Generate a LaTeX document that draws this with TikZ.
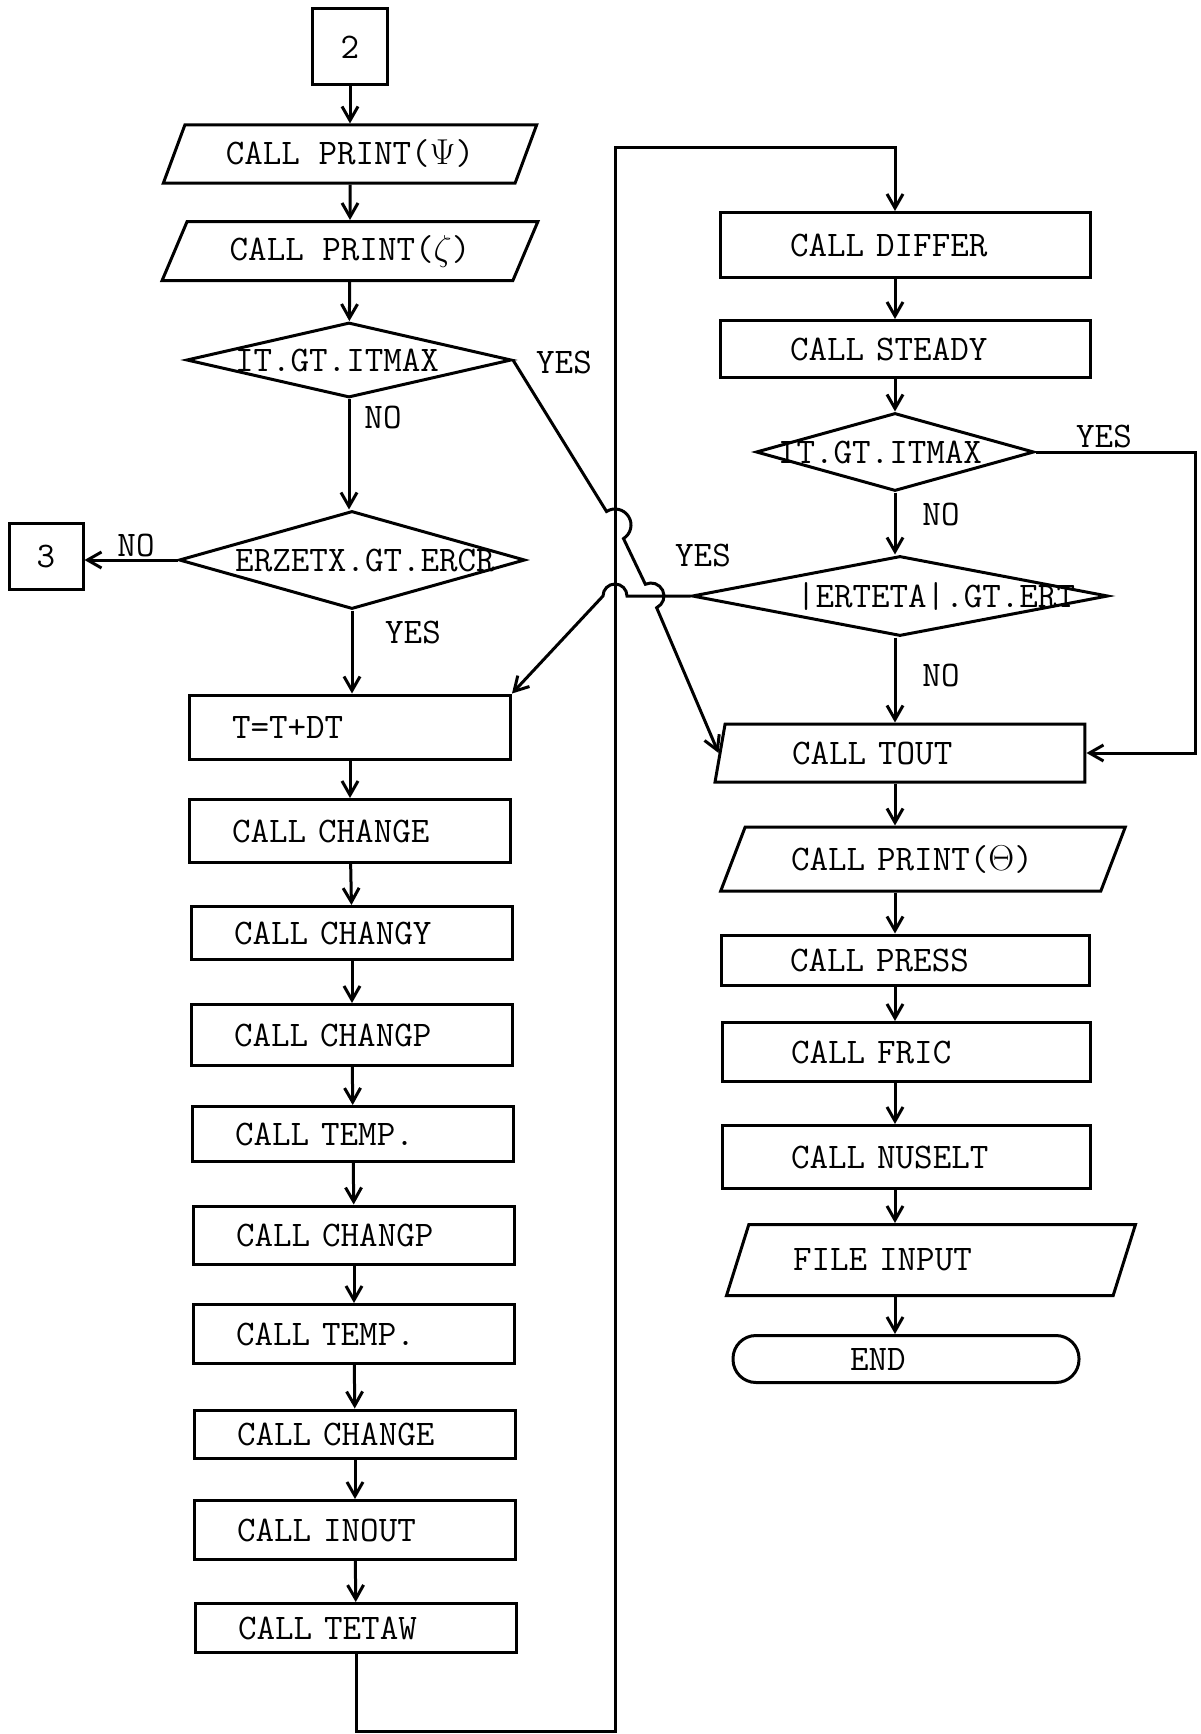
\documentclass[tikz,border=0pt]{standalone}
\usepackage{fix-cm}
\usetikzlibrary{shapes.geometric,arrows.meta}
\newcommand{\textodec}[2]{\makebox[0pt]{\kern#1pt\relax#2\kern-#1pt}}
\begin{document}
\begin{tikzpicture}[
    x=1pt,y=1pt,
    line width=3pt,
    font=\fontsize{36}{40}\selectfont\ttfamily,
    caixa/.style={draw,rectangle,inner sep=0pt,align=left},
    esq/.style={caixa,minimum width=321pt,text width=236pt},
    dir/.style={caixa,minimum width=368pt,text width=230pt},
    entrada/.style={draw,trapezium,trapezium stretches=true,inner sep=0pt,align=left},
    decisao/.style={draw,diamond,inner sep=0pt},
    conector/.style={draw,rectangle,inner sep=0pt},
    terminal/.style={draw,rectangle,rounded corners=23pt,inner sep=0pt,align=left},
    rotulo/.style={inner sep=0pt},
    seta/.style={-{Straight Barb[length=14pt,width=16pt]}}
]
\useasboundingbox (0,0) rectangle (1201,-1734);

\node[conector,minimum width=75pt,minimum height=76pt] (c2) at (350,-47) {2};
\node[entrada,trapezium left angle=60,trapezium right angle=120,minimum width=374pt,minimum height=58pt,align=center] (psi) at (350,-154) {CALL PRINT($\Psi$)};
\node[entrada,trapezium left angle=60,trapezium right angle=120,minimum width=376pt,minimum height=59pt,align=center] (zeta) at (350,-251) {CALL PRINT($\zeta$)};
\node[decisao,minimum width=325pt,minimum height=75pt] (itmax1) at (349,-360) {\textodec{-12}{IT.GT.ITMAX}};
\node[decisao,minimum width=346pt,minimum height=98pt] (erzetx) at (352,-560) {\textodec{13}{ERZETX.GT.ERCR}};
\node[conector,minimum width=74pt,minimum height=66pt] (c3) at (46,-556) {3};
\node[esq,minimum height=64pt] (tdt) at (350,-727) {T=T+DT};
\node[esq,minimum height=63pt] (chge1) at (350,-831) {CALL CHANGE};
\node[esq,minimum height=53pt] (chgy) at (352,-933) {CALL CHANGY};
\node[esq,minimum height=61pt] (chgp1) at (352,-1035) {CALL CHANGP};
\node[esq,minimum height=55pt] (temp1) at (353,-1134) {CALL TEMP.};
\node[esq,minimum height=58pt] (chgp2) at (354,-1235) {CALL CHANGP};
\node[esq,minimum height=59pt] (temp2) at (354,-1334) {CALL TEMP.};
\node[esq,minimum height=48pt] (chge2) at (355,-1434) {CALL CHANGE};
\node[esq,minimum height=59pt] (inout) at (355,-1530) {CALL INOUT};
\node[esq,minimum height=49pt] (tetaw) at (356,-1628) {CALL TETAW};

\node[dir,minimum width=370pt,minimum height=65pt] (differ) at (905,-245) {CALL DIFFER};
\node[dir,minimum width=370pt,minimum height=57pt] (steady) at (905,-349) {CALL STEADY};
\node[decisao,minimum width=278pt,minimum height=78pt] (itmax2) at (895,-452) {\textodec{-15}{IT.GT.ITMAX}};
\node[decisao,minimum width=416pt,minimum height=80pt] (erteta) at (900,-596) {\textodec{36}{|ERTETA|.GT.ERT}};
\node[entrada,trapezium left angle=74.6,trapezium right angle=90,minimum width=370pt,minimum height=58pt,text width=226pt] (tout) at (905,-753) {CALL TOUT};
\node[entrada,trapezium left angle=57,trapezium right angle=123,minimum width=405pt,minimum height=64pt,text width=264pt] (theta) at (923,-859) {CALL PRINT($\Theta$)};
\node[dir,minimum height=50pt] (press) at (905,-960) {CALL PRESS};
\node[dir,minimum height=59pt] (fric) at (906,-1052) {CALL FRIC};
\node[dir,minimum height=63pt] (nuselt) at (906,-1157) {CALL NUSELT};
\node[entrada,trapezium left angle=53,trapezium right angle=127,minimum width=410pt,minimum height=71pt,text width=276pt] (file) at (931,-1260) {FILE INPUT};
\node[terminal,minimum width=346pt,minimum height=47pt,text width=112pt] (final) at (906,-1359) {END};

\node[rotulo] (sim1) at (564,-362) {YES};
\node[rotulo] (nao1) at (383,-417) {NO};
\node[rotulo] (nao2) at (136,-545) {NO};
\node[rotulo] (sim2) at (413,-632) {YES};
\node[rotulo] (sim3) at (1104,-436) {YES};
\node[rotulo] (nao3) at (941,-514) {NO};
\node[rotulo] (sim4) at (703,-555) {YES};
\node[rotulo] (nao4) at (941,-675) {NO};

\coordinate (retorno) at (615,-1731);
\coordinate (topo) at (615,-147);
\coordinate (lado) at (1195,-452);
\coordinate (eixo) at (895,0);
\coordinate (salto1) at (615,-525);
\coordinate (salto2) at (651,-596);
\coordinate (salto3) at (615,-596);

\draw[seta] (c2) -- (psi);
\draw[seta] (psi) -- (zeta);
\draw[seta] (zeta) -- (itmax1);
\draw[seta] (itmax1.south) -- (itmax1.south |- erzetx.north);
\draw[seta] (erzetx.west) -- (erzetx.west -| c3.east);
\draw[seta] (erzetx.south) -- (erzetx.south |- tdt.north);
\draw[seta] (tdt) -- (chge1);
\draw[seta] (chge1) -- (chgy);
\draw[seta] (chgy) -- (chgp1);
\draw[seta] (chgp1) -- (temp1);
\draw[seta] (temp1) -- (chgp2);
\draw[seta] (chgp2) -- (temp2);
\draw[seta] (temp2) -- (chge2);
\draw[seta] (chge2) -- (inout);
\draw[seta] (inout) -- (tetaw);
\draw[seta] (tetaw.south) |- (retorno) -- (topo) -| (differ.north -| eixo);

\draw[seta] (differ.south -| eixo) -- (steady.north -| eixo);
\draw[seta] (steady.south -| eixo) -- (itmax2.north);
\draw[seta] (itmax2.south) -- (erteta.north -| eixo);
\draw[seta] (erteta.south -| eixo) -- (tout.north -| eixo);
\draw[seta] (tout.south -| eixo) -- (theta.north -| eixo);
\draw[seta] (theta.south -| eixo) -- (press.north -| eixo);
\draw[seta] (press.south -| eixo) -- (fric.north -| eixo);
\draw[seta] (fric.south -| eixo) -- (nuselt.north -| eixo);
\draw[seta] (nuselt.south -| eixo) -- (file.north -| eixo);
\draw[seta] (file.south -| eixo) -- (final.north -| eixo);
\draw[seta] (itmax2.east) -- (lado) |- (tout.east);

\draw[seta] (itmax1.east) -- ([shift={(122.1:16)}]salto1) arc[start angle=122.1,end angle=-57.9,radius=16]
    -- ([shift={(115.7:13)}]salto2) arc[start angle=115.7,end angle=-64.3,radius=13] -- (tout.left side);
\draw[seta] (erteta.west) -- ([xshift=12pt]salto3) arc[start angle=0,end angle=180,radius=12] -- (tdt.north east);
\end{tikzpicture}
\end{document}
